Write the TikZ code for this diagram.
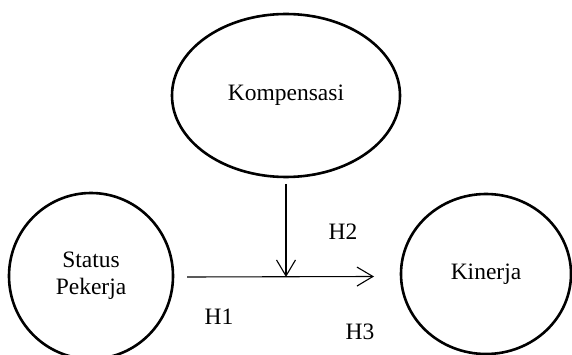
\documentclass[tikz,border=0pt]{standalone}
\usepackage{fontspec}
\setmainfont{Liberation Serif}
\usetikzlibrary{shapes.geometric,arrows.meta}
\begin{document}
\begin{tikzpicture}[x=1pt,y=-1pt,
  var/.style={draw=black,line width=2.6pt,ellipse,inner sep=0pt,align=center,
    font=\fontsize{23.5}{27}\selectfont},
  link/.style={line width=1.1pt,-{Straight Barb[length=16pt,width=19pt,line width=1.1pt]}},
  hyp/.style={font=\fontsize{23.5}{27}\selectfont}]
\useasboundingbox (0,0) rectangle (572,355);
\clip (0,0) rectangle (572,355);
\node[var,minimum width=228pt,minimum height=163pt] (komp) at (286,95.5) {Kompensasi};
\node[var,minimum width=164pt,minimum height=166pt] (status) at (91,276) {Status\\Pekerja};
\node[var,minimum width=170pt,minimum height=160pt] (kin) at (486,274) {Kinerja};
\coordinate (hs) at (187,277);
\coordinate (he) at (374,276.5);
\coordinate (mid) at (286,277);
\coordinate (vt) at (286,184);
\draw[link] (hs) -- (he);
\draw[link] (vt) -- (mid);
\node[hyp] (h1) at (219,317) {H1};
\node[hyp] (h2) at (343,232) {H2};
\node[hyp] (h3) at (360,332) {H3};
\end{tikzpicture}
\end{document}
